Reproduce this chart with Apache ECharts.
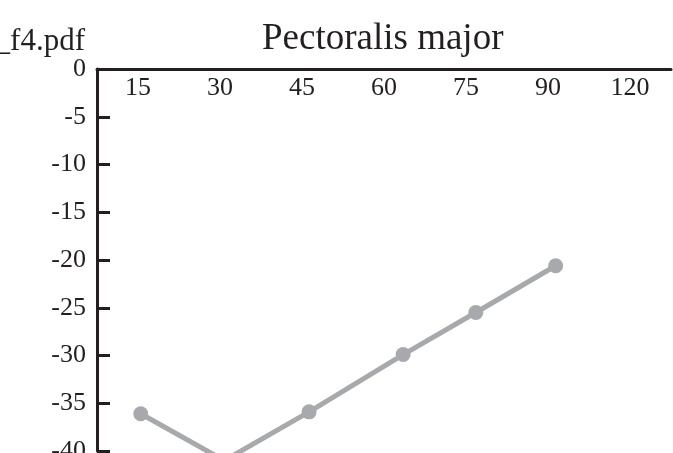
<!DOCTYPE html>
<html>
<head>
<meta charset="utf-8">
<script src="https://cdn.jsdelivr.net/npm/echarts@6/dist/echarts.min.js"></script>
<style>
  html, body { margin: 0; padding: 0; background: #fff; }
  #chart { width: 673px; height: 453px; }
</style>
</head>
<body>
<div id="chart"></div>
<script>
// Joint angle categories shown along the top axis (degrees)
const angleLabels = ['15', '30', '45', '60', '75', '90', '120'];
const angleTickValues = [15, 30, 45, 60, 75, 90, 120];

// Measured angles and the corresponding values for the pectoralis major
const measuredAngles = [15.5, 30.8, 46.3, 63.5, 76.8, 92.8];
const pectoralisValues = [-36.1, -41.0, -35.9, -29.9, -25.5, -20.6];

const chartTitle = 'Pectoralis major';
const fileTag = '_f4.pdf';

// Place an angle on the evenly spaced category scale (piecewise between labelled angles)
function slotOf(angle) {
  const t = angleTickValues;
  for (let i = 0; i < t.length - 1; i++) {
    if (angle <= t[i + 1] || i === t.length - 2) {
      return i + (angle - t[i]) / (t[i + 1] - t[i]);
    }
  }
  return 0;
}

const points = measuredAngles.map((a, i) => [slotOf(a), pectoralisValues[i]]);

const ink = '#231f20';
const serif = '"Liberation Serif", "DejaVu Serif", serif';

const chart = echarts.init(document.getElementById('chart'), null, { renderer: 'canvas' });
chart.setOption({
  animation: false,
  backgroundColor: '#ffffff',
  title: {
    text: chartTitle,
    left: 262,
    top: 21,
    padding: 0,
    textStyle: { fontFamily: serif, fontSize: 37, fontWeight: 'normal', color: ink }
  },
  graphic: [{
    type: 'text',
    right: 588,
    top: 26,
    style: { text: fileTag, font: '31px ' + serif, fill: ink }
  }],
  grid: { left: 97, right: 2, top: 69, bottom: 2, outerBoundsMode: 'none', containLabel: false },
  xAxis: [{
    type: 'category',
    data: angleLabels,
    position: 'top',
    boundaryGap: true,
    axisLine: { lineStyle: { color: ink, width: 3 } },
    axisTick: { alignWithLabel: true, inside: false, length: 9, lineStyle: { color: ink, width: 3 } },
    axisLabel: { inside: true, margin: 6, fontFamily: serif, fontSize: 26, color: ink },
    splitLine: { show: false }
  }, {
    type: 'value',
    position: 'top',
    min: -0.5,
    max: 6.5,
    show: false
  }],
  yAxis: {
    type: 'value',
    min: -40,
    max: 0,
    interval: 5,
    axisLine: { show: true, onZero: false, lineStyle: { color: ink, width: 3 } },
    axisTick: { show: true, inside: true, length: 13, lineStyle: { color: ink, width: 3 } },
    axisLabel: { margin: 11, fontFamily: serif, fontSize: 26, color: ink },
    splitLine: { show: false }
  },
  series: [{
    type: 'line',
    xAxisIndex: 1,
    data: points,
    clip: false,
    symbol: 'circle',
    symbolSize: 15,
    lineStyle: { color: '#a7a9ac', width: 5 },
    itemStyle: { color: '#a7a9ac' }
  }]
});
</script>
</body>
</html>
